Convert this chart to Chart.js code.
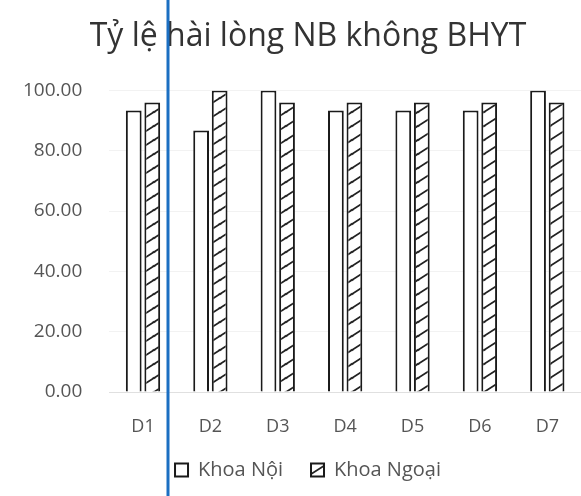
<!DOCTYPE html>
<html>
<head>
<meta charset="utf-8">
<script src="https://cdn.jsdelivr.net/npm/chart.js@4.4.0/dist/chart.umd.min.js"></script>
<style>
  html, body { margin: 0; padding: 0; background: #fff; overflow: hidden; }
  #wrap { width: 581px; height: 496px; overflow: hidden; }
</style>
</head>
<body>
<div id="wrap"><canvas id="satChart" width="620" height="496"></canvas></div>
<script>
// data
const categories = ['D1', 'D2', 'D3', 'D4', 'D5', 'D6', 'D7'];
const khoaNoi = [93.3, 86.7, 100, 93.3, 93.3, 93.3, 100];
const khoaNgoai = [96, 100, 96, 96, 96, 96, 96];
const seriesNames = ['Khoa Nội', 'Khoa Ngoại'];
const chartTitle = 'Tỷ lệ hài lòng NB không BHYT';

// diagonal hatch for the second series
function makeHatch() {
    const w = 22, h = 14;
    const c = document.createElement('canvas');
    c.width = w;
    c.height = h;
    const g = c.getContext('2d');
    g.fillStyle = '#fff';
    g.fillRect(0, 0, w, h);
    g.strokeStyle = '#222';
    g.lineWidth = 1.8;
    g.beginPath();
    g.moveTo(0, h); g.lineTo(w, 0);
    g.moveTo(-3, 2); g.lineTo(2, -1);
    g.moveTo(w - 2, h + 1); g.lineTo(w + 3, h - 2);
    g.stroke();
    return g.createPattern(c, 'repeat');
}

// blue pen mark across the scan
const penLine = {
    id: 'penLine',
    afterDraw(chart) {
        const ctx = chart.ctx;
        ctx.save();
        ctx.strokeStyle = '#1b6fc2';
        ctx.lineWidth = 3;
        ctx.beginPath();
        ctx.moveTo(168, 0);
        ctx.lineTo(168, chart.height);
        ctx.stroke();
        ctx.restore();
    }
};

document.addEventListener('DOMContentLoaded', function () {
    const hatch = makeHatch();
    const ctx = document.getElementById('satChart').getContext('2d');
    new Chart(ctx, {
        type: 'bar',
        data: {
            labels: categories,
            datasets: [{
                label: seriesNames[0],
                data: khoaNoi,
                backgroundColor: '#ffffff',
                borderColor: '#1a1a1a',
                borderWidth: 2
            }, {
                label: seriesNames[1],
                data: khoaNgoai,
                backgroundColor: hatch,
                borderColor: '#1a1a1a',
                borderWidth: 2
            }]
        },
        options: {
            responsive: false,
            animation: false,
            categoryPercentage: 0.55,
            barPercentage: 0.85,
            layout: { padding: { left: -4, right: 0, top: 8, bottom: 6 } },
            plugins: {
                title: {
                    display: true,
                    text: chartTitle,
                    color: '#333',
                    font: { family: 'Open Sans', size: 32, weight: 'normal' },
                    padding: { top: 10, bottom: 34 }
                },
                legend: {
                    position: 'bottom',
                    labels: {
                        color: '#555',
                        font: { family: 'Open Sans', size: 20 },
                        boxWidth: 13,
                        boxHeight: 13,
                        padding: 28
                    }
                },
                tooltip: { enabled: false }
            },
            scales: {
                y: {
                    min: 0,
                    max: 100,
                    ticks: {
                        stepSize: 20,
                        color: '#555',
                        font: { family: 'Open Sans', size: 19 },
                        padding: 27,
                        callback: v => v.toFixed(2)
                    },
                    grid: { color: 'rgba(0,0,0,0.05)', drawTicks: false },
                    border: { display: false }
                },
                // empty strip on the right: the scan cuts the chart off there
                yRight: {
                    type: 'linear',
                    position: 'right',
                    ticks: { display: false },
                    grid: { display: false },
                    border: { display: false },
                    afterFit: scale => { scale.width = 39; }
                },
                x: {
                    ticks: {
                        color: '#555',
                        font: { family: 'Open Sans', size: 18 },
                        padding: 16
                    },
                    grid: { display: false },
                    border: { color: 'rgba(0,0,0,0.08)' },
                    afterFit: scale => { scale.height = 40; }
                }
            }
        },
        plugins: [penLine]
    });
});
</script>
</body>
</html>
